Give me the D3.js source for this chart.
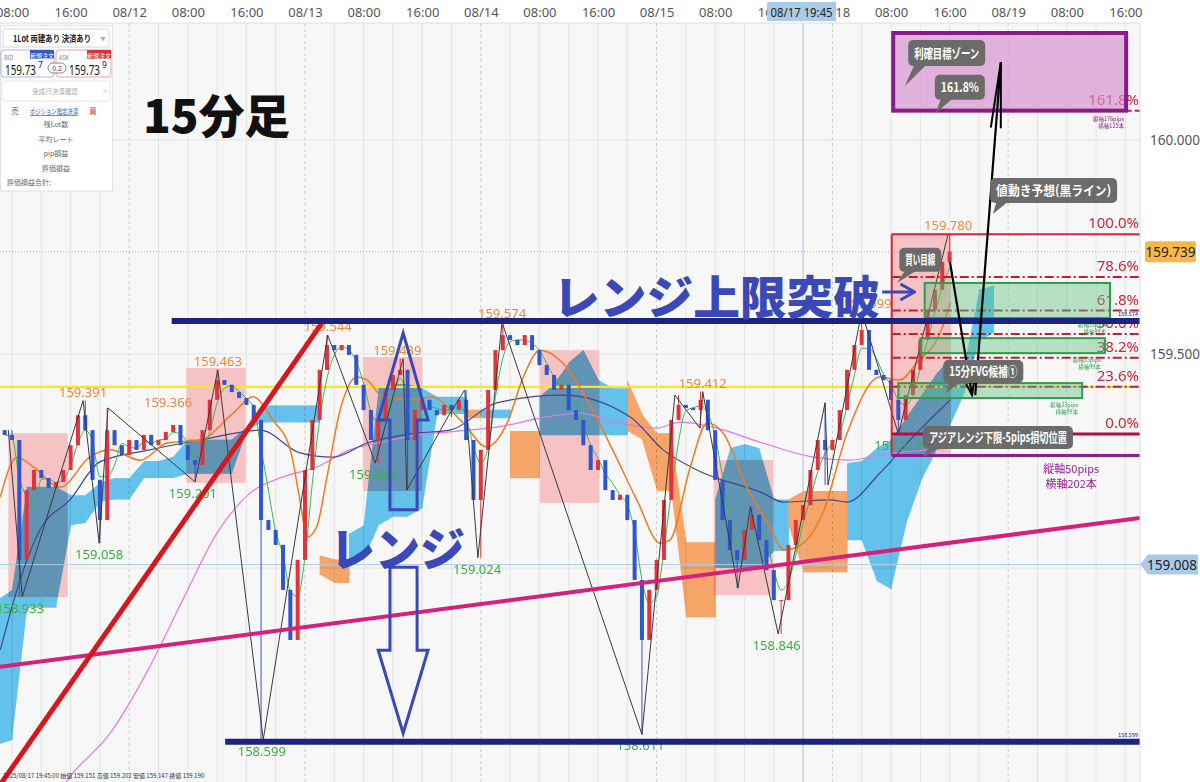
<!DOCTYPE html>
<html><head><meta charset="utf-8">
<script src="https://d3js.org/d3.v7.min.js"></script>
<style>
html,body{margin:0;padding:0;background:#fff;}
svg{display:block;font-family:"Noto Sans CJK JP","Noto Sans",sans-serif;}
</style></head><body>
<svg id="c" width="1200" height="782"></svg>
<script>
// ---------------- DATA ----------------
const timeTickLabels = ["08:00","16:00","08/12","08:00","16:00","08/13","08:00","16:00","08/14","08:00","16:00","08/15","08:00","16:00","08/18","08:00","16:00","08/19","08:00","16:00"];
const priceTicks = [159.5, 160.0];
const gridPrices = [159.0, 159.5, 160.0];
const dayBoundaries = [16, 40, 64, 88, 112, 136];

// hourly candles, first candle at hour index -1 (08/11 07:00)
const closeStart = -1;
const firstOpen = 159.322;
const closes = [
159.311,159.299,159.019,159.182,159.229,159.210,159.187,159.201,159.229,159.287,
159.357,159.322,159.206,159.112,159.322,159.287,159.264,159.299,159.276,159.311,
159.287,159.299,159.318,159.334,159.287,159.252,159.241,159.322,159.393,159.439,
159.428,159.411,159.397,159.381,159.346,159.112,159.089,159.054,158.949,158.832,
159.019,159.229,159.346,159.463,159.521,159.509,159.521,159.498,159.428,159.369,
159.299,159.346,159.416,159.451,159.463,159.299,159.369,159.393,159.369,159.357,
159.381,159.369,159.393,159.299,159.159,159.276,159.416,159.509,159.544,159.533,
159.521,159.544,159.509,159.474,159.451,159.416,159.428,159.369,159.346,159.287,
159.229,159.252,159.182,159.159,159.171,159.112,158.972,158.832,158.949,159.019,
159.159,159.346,159.381,159.374,159.369,159.393,159.322,159.206,159.112,159.042,
159.019,159.089,159.124,159.065,158.995,158.925,158.925,159.054,159.112,159.147,
159.229,159.299,159.276,159.299,159.369,159.463,159.521,159.556,159.463,159.451,
159.439,159.393,159.346,159.404,159.463,159.533,159.603,159.650,159.715,159.739];

// zigzag swing points (hour index, price)
const swingT = [-0.5,1.4,9.7,11.9,13.1,25,28.1,34.3,43.1,49.6,53.4,53.9,59.5,61.8,63.6,66.9,86,90.5,93.9,94.3,99.1,100.8,104.6,111,111.4,116,121,127.8];
const swingP = [159.322,158.933,159.391,159.058,159.374,159.201,159.463,158.599,159.544,159.245,159.489,159.182,159.353,159.416,159.024,159.574,158.611,159.404,159.327,159.412,158.953,159.143,158.846,159.386,159.194,159.599,159.313,159.780];

// labelled highs / lows
const highLabelT = [9.7,21.3,28.1,43.1,52.6,66.9,94.3,116.8,127.8];
const highLabelP = [159.391,159.366,159.463,159.544,159.489,159.574,159.412,159.599,159.780];
const lowLabelT = [1.1,11.9,24.7,34.1,49.3,63.5,85.8,104.4,121];
const lowLabelP = [158.933,159.058,159.201,158.599,159.245,159.024,158.611,158.846,159.313];

// Tokyo session boxes
const sessionStart = [-0.5,23.8,47.9,72.1,95.8,120.1];
const sessionHigh = [159.315,159.467,159.493,159.509,159.252,159.783];
const sessionLow  = [158.932,159.199,159.180,159.152,158.937,159.259];

// Ichimoku cloud, every 2 hours from hour -2
const kumoStart = -2;
const kumoA = [158.925,158.949,159.19,159.19,159.19,159.17,159.17,159.20,159.21,159.21,159.25,159.25,159.26,159.30,159.30,159.30,159.30,159.33,159.38,159.38,159.38,159.38,158.985,158.965,159.08,159.10,159.42,159.43,159.43,159.42,159.40,159.40,159.35,159.37,159.37,159.21,159.21,159.40,159.43,159.48,159.51,159.44,159.42,159.32,159.30,159.18,159.18,158.885,158.885,159.16,159.28,159.29,159.28,159.16,159.10,158.99,158.99,158.99,159.245,159.25,159.28,159.30,159.35,159.40,159.45,159.49,159.47,159.65,159.66];
const kumoB = [158.587,158.598,158.907,158.907,158.907,159.10,159.105,159.155,159.16,159.16,159.21,159.21,159.21,159.22,159.22,159.22,159.22,159.32,159.34,159.34,159.34,159.34,159.03,159.02,159.02,159.02,159.10,159.12,159.12,159.14,159.36,159.36,159.37,159.35,159.35,159.32,159.32,159.31,159.31,159.31,159.31,159.31,159.31,159.44,159.36,159.315,159.315,159.06,159.06,159.00,159.00,159.00,159.00,159.04,159.16,159.18,159.18,159.18,159.065,159.065,158.97,158.95,159.10,159.20,159.27,159.33,159.41,159.53,159.55];

// moving averages
const orangeT = [-1.6,0.7,2.9,6.6,10.6,13.4,17.5,21.2,25.7,30.2,32.9,35.6,38.0,39.3,40.3,41.6,43.0,44.8,47.1,48.5,50.6,55.3,57.1,61.6,64.8,67.6,69.8,72.1,75.2,78.5,82.0,85.3,88.5,89.8,92.6,94.9,97.1,100.3,103.5,105.3,107.2,110.7,114.0,118.5,121.2,123.5,126.7,128.1];
const orangeV = [159.166,159.259,159.236,159.189,159.259,159.276,159.252,159.292,159.299,159.362,159.400,159.346,159.276,159.159,159.072,159.096,159.213,159.369,159.446,159.439,159.400,159.393,159.400,159.339,159.283,159.339,159.446,159.509,159.479,159.393,159.276,159.159,159.058,159.065,159.236,159.339,159.315,159.189,159.096,159.042,159.049,159.129,159.315,159.446,159.439,159.479,159.549,159.619];
const navyT = [-1.6,1.1,3.8,7.9,12.0,18.8,25.7,33.9,39.3,43.8,48.5,55.3,59.8,66.2,75.2,84.4,88.9,93.5,102.5,105.3,111.7,114.0,118.5,122.6,128.1];
const navyV = [158.808,158.972,159.089,159.159,159.248,159.276,159.299,159.322,159.269,159.259,159.292,159.315,159.322,159.386,159.404,159.353,159.276,159.229,159.175,159.154,159.159,159.154,159.222,159.299,159.393];
const pinkT = [6.6,7.9,13.4,18.8,23.3,28.0,32.5,37.0,41.6,46.1,50.6,55.3,59.8,66.2,73.0,77.5,82.6,88.1,91.2,95.7,102.5,109.4,114.4,118.5,128.1];
const pinkV = [158.481,158.512,158.614,158.769,158.925,159.082,159.175,159.213,159.236,159.276,159.294,159.311,159.318,159.329,159.353,159.362,159.339,159.327,159.341,159.329,159.292,159.259,159.252,159.264,159.280];

// drawn analysis objects
const rangeTop = 159.577, rangeTopFrom = 21.8;
const rangeBottom = 158.594, rangeBottomFrom = 29.1;
const redTrendT = [-1.64, 42.3], redTrendP = [158.493, 159.572];
const magentaT = [-1.64, 154], magentaP = [158.769, 159.117];
const yellowLevel = 159.423;
const fib0 = 159.313, fib100 = 159.780, fibFrom = 120.1;
const fibRatios = [0, 0.236, 0.382, 0.5, 0.618, 0.786, 1, 1.618];
const stopLevel = 159.263;
const targetT = [120.3, 152.1], targetTop = 160.25;
const fvgT0 = [124.6, 124.0, 121.0], fvgT1 = [149.9, 149.2, 146.1];
const fvgHi = [159.666, 159.537, 159.432], fvgLo = [159.584, 159.502, 159.397];
const predT1 = [128.05, 131.06], predP1 = [159.715, 159.404];
const predT2 = [131.5, 135.0], predP2 = [159.404, 160.182];
const crossT = 108, crossP = 159.008;
const lastPrice = 159.739;

// ---------------- SETUP ----------------
const W = 1200, H = 782, PR = 1140, PT = 23, PB = 782;
const svg = d3.select("#c");
const x = d3.scaleLinear().domain([0, 152]).range([12, 12 + 152 * 7.325]);
const y = d3.scaleLinear().domain([159, 160]).range([568, 140]);
const fmt3 = d3.format(".3f");

svg.append("rect").attr("width", W).attr("height", H).attr("fill", "#fff");
svg.append("rect").attr("x", 0).attr("y", PT).attr("width", PR).attr("height", PB - PT).attr("fill", "#f7f7f7");
const defs = svg.append("defs");
defs.append("clipPath").attr("id", "plot").append("rect").attr("x", 0).attr("y", PT).attr("width", PR).attr("height", PB - PT);
defs.append("marker").attr("id", "arrSmall").attr("viewBox", "-14 -6 16 12").attr("refX", 0).attr("refY", 0)
  .attr("markerWidth", 16).attr("markerHeight", 12).attr("markerUnits", "userSpaceOnUse").attr("orient", "auto")
  .append("path").attr("d", "M-12,-4L0,0L-12,4").attr("fill", "none").attr("stroke", "#000").attr("stroke-width", 2);
defs.append("marker").attr("id", "arrLong").attr("viewBox", "-70 -8 72 16").attr("refX", 0).attr("refY", 0)
  .attr("markerWidth", 72).attr("markerHeight", 16).attr("markerUnits", "userSpaceOnUse").attr("orient", "auto")
  .append("path").attr("d", "M-66,-5L0,0L-66,5").attr("fill", "none").attr("stroke", "#000").attr("stroke-width", 2);
defs.append("marker").attr("id", "arrBlue").attr("viewBox", "-18 -10 20 20").attr("refX", 0).attr("refY", 0)
  .attr("markerWidth", 20).attr("markerHeight", 20).attr("markerUnits", "userSpaceOnUse").attr("orient", "auto")
  .append("path").attr("d", "M-14,-8L0,0L-14,8").attr("fill", "none").attr("stroke", "#3a48b8").attr("stroke-width", 3);

const g = svg.append("g").attr("clip-path", "url(#plot)");

// grid
g.selectAll(".vg").data(d3.range(-4, 160, 4).filter(t => !dayBoundaries.includes(t))).join("line")
  .attr("x1", d => x(d)).attr("x2", d => x(d)).attr("y1", PT).attr("y2", PB)
  .attr("stroke", "#e3e3e3").attr("stroke-width", 1);
g.selectAll(".dg").data(dayBoundaries).join("line")
  .attr("x1", d => x(d)).attr("x2", d => x(d)).attr("y1", PT).attr("y2", PB)
  .attr("stroke", "#b9d9a8").attr("stroke-dasharray", "3,3");
g.selectAll(".hg").data(gridPrices).join("line")
  .attr("x1", 0).attr("x2", PR).attr("y1", d => y(d)).attr("y2", d => y(d))
  .attr("stroke", "#e3e3e3");
svg.append("line").attr("x1", 0).attr("x2", PR).attr("y1", PT).attr("y2", PT).attr("stroke", "#dedede");
svg.append("line").attr("x1", PR).attr("x2", PR).attr("y1", PT).attr("y2", PB).attr("stroke", "#dedede");

// session boxes
g.selectAll(".sess").data(sessionStart).join("rect")
  .attr("x", d => x(d)).attr("width", d => x(d + 8.1) - x(d))
  .attr("y", (d, i) => y(sessionHigh[i])).attr("height", (d, i) => y(sessionLow[i]) - y(sessionHigh[i]))
  .attr("fill", "#f6c2c3");

// cloud
const kg = g.append("g").style("mix-blend-mode", "multiply");
const kumoT = kumoA.map((d, i) => kumoStart + 2 * i);
for (let i = 0; i < kumoA.length - 1; i++) {
  const bull = kumoA[i] >= kumoB[i];
  const bullN = kumoA[i + 1] >= kumoB[i + 1];
  const hi0 = Math.max(kumoA[i], kumoB[i]), lo0 = Math.min(kumoA[i], kumoB[i]);
  let hi1 = hi0, lo1 = lo0;
  if (bull === bullN) { hi1 = Math.max(kumoA[i + 1], kumoB[i + 1]); lo1 = Math.min(kumoA[i + 1], kumoB[i + 1]); }
  const x0 = x(kumoT[i]), x1 = x(kumoT[i + 1]) + 0.5;
  kg.append("path").attr("d", `M${x0},${y(hi0)}L${x1},${y(hi1)}L${x1},${y(lo1)}L${x0},${y(lo0)}Z`)
    .attr("fill", bull ? "#63c1ec" : "#f7a468");
}

// levels
g.append("line").attr("x1", 0).attr("x2", PR).attr("y1", y(yellowLevel)).attr("y2", y(yellowLevel))
  .attr("stroke", "#ffe619").attr("stroke-width", 2.2);
g.append("line").attr("x1", 0).attr("x2", PR).attr("y1", y(lastPrice)).attr("y2", y(lastPrice))
  .attr("stroke", "#f2a63c").attr("stroke-dasharray", "1,2").attr("stroke-width", 1);
g.append("line").attr("x1", x(crossT)).attr("x2", x(crossT)).attr("y1", PT).attr("y2", PB).attr("stroke", "#afcbe2");
g.append("line").attr("x1", 0).attr("x2", PR).attr("y1", y(crossP)).attr("y2", y(crossP)).attr("stroke", "#afcbe2");

// moving averages
const lineTV = d3.line().x(d => x(d[0])).y(d => y(d[1])).curve(d3.curveMonotoneX);
g.append("path").attr("d", lineTV(pinkT.map((t, i) => [t, pinkV[i]]))).attr("fill", "none").attr("stroke", "#e078e6").attr("stroke-width", 1.2);
g.append("path").attr("d", lineTV(navyT.map((t, i) => [t, navyV[i]]))).attr("fill", "none").attr("stroke", "#3d4a8c").attr("stroke-width", 1.2);
g.append("path").attr("d", lineTV(orangeT.map((t, i) => [t, orangeV[i]]))).attr("fill", "none").attr("stroke", "#f07b1e").attr("stroke-width", 1.5);
const greenMA = closes.map((c, i) => [closeStart + i, d3.mean(closes.slice(Math.max(0, i - 2), i + 1))]);
g.append("path").attr("d", lineTV(greenMA)).attr("fill", "none").attr("stroke", "#3cb54a").attr("stroke-width", 1);

// candles
const candles = closes.map((c, i) => {
  const t = closeStart + i;
  const o = i > 0 ? closes[i - 1] : firstOpen;
  let hi = Math.max(o, c), lo = Math.min(o, c);
  swingT.forEach((st, j) => { if (Math.round(st) === t) { hi = Math.max(hi, swingP[j]); lo = Math.min(lo, swingP[j]); } });
  return { t, o, c, hi, lo };
});
const cg = g.append("g");
cg.selectAll("line").data(candles).join("line")
  .attr("x1", d => x(d.t)).attr("x2", d => x(d.t)).attr("y1", d => y(d.hi)).attr("y2", d => y(d.lo))
  .attr("stroke", d => d.c >= d.o ? "#e2323c" : "#2f55cf").attr("stroke-width", 1);
cg.selectAll("rect").data(candles).join("rect")
  .attr("x", d => x(d.t) - 2).attr("width", 4)
  .attr("y", d => y(Math.max(d.o, d.c))).attr("height", d => Math.max(1, Math.abs(y(d.o) - y(d.c))))
  .attr("fill", d => d.c >= d.o ? "#e2323c" : "#2f55cf");

// zigzag
g.append("path").attr("d", d3.line().x(d => x(d[0])).y(d => y(d[1]))(swingT.map((t, i) => [t, swingP[i]])))
  .attr("fill", "none").attr("stroke", "#3a3a3a").attr("stroke-width", 1);

// swing labels
g.selectAll(".hl").data(highLabelT).join("text")
  .attr("x", d => x(d)).attr("y", (d, i) => y(highLabelP[i]) - 4).attr("text-anchor", "middle")
  .attr("font-size", 13).attr("font-family", "Noto Sans, sans-serif").attr("fill", "#e8893c")
  .text((d, i) => fmt3(highLabelP[i]));
g.selectAll(".ll").data(lowLabelT).join("text")
  .attr("x", d => x(d)).attr("y", (d, i) => y(lowLabelP[i]) + 16).attr("text-anchor", "middle")
  .attr("font-size", 13).attr("font-family", "Noto Sans, sans-serif").attr("fill", "#3bb03a")
  .text((d, i) => fmt3(lowLabelP[i]));

// ---- analysis objects ----
const fibLevel = r => fib0 + r * (fib100 - fib0);
g.append("line").attr("x1", x(fibFrom)).attr("x2", PR).attr("y1", y(fibLevel(1.618))).attr("y2", y(fibLevel(1.618)))
  .attr("stroke", "#c8243a").attr("stroke-width", 2).attr("stroke-dasharray", "6,3");
g.selectAll(".fl").data(fibRatios).join("text")
  .attr("x", PR - 1).attr("y", d => y(fibLevel(d)) - 6).attr("text-anchor", "end")
  .attr("font-size", 15).attr("font-family", "Noto Sans, sans-serif").attr("fill", "#c8283c")
  .text(d => d3.format(".1%")(d));
g.append("rect").attr("x", x(targetT[0])).attr("width", x(targetT[1]) - x(targetT[0]))
  .attr("y", y(targetTop)).attr("height", y(fibLevel(1.618)) - y(targetTop))
  .attr("fill", "#d28ccc").attr("fill-opacity", 0.65).attr("stroke", "#8a1a88").attr("stroke-width", 4);

// fib lines
fibRatios.filter(r => r > 0 && r < 1).forEach(r => {
  g.append("line").attr("x1", x(fibFrom)).attr("x2", PR).attr("y1", y(fibLevel(r))).attr("y2", y(fibLevel(r)))
    .attr("stroke", "#c0202e").attr("stroke-width", 2).attr("stroke-dasharray", "9,3,2,3");
});
g.append("line").attr("x1", x(fibFrom)).attr("x2", PR).attr("y1", y(fib100)).attr("y2", y(fib100)).attr("stroke", "#d4283a").attr("stroke-width", 2);
g.append("line").attr("x1", x(fibFrom)).attr("x2", x(fibFrom)).attr("y1", y(fib100)).attr("y2", y(stopLevel)).attr("stroke", "#d4283a").attr("stroke-width", 2);
g.append("line").attr("x1", x(fibFrom)).attr("x2", PR).attr("y1", y(fib0)).attr("y2", y(fib0)).attr("stroke", "#b0103c").attr("stroke-width", 3);
g.append("line").attr("x1", x(fibFrom)).attr("x2", PR).attr("y1", y(stopLevel)).attr("y2", y(stopLevel)).attr("stroke", "#8e1c90").attr("stroke-width", 3);

// FVG boxes
g.selectAll(".fvg").data(fvgT0).join("rect")
  .attr("x", d => x(d)).attr("width", (d, i) => x(fvgT1[i]) - x(d))
  .attr("y", (d, i) => y(fvgHi[i])).attr("height", (d, i) => y(fvgLo[i]) - y(fvgHi[i]))
  .attr("fill", "#5cc07c").attr("fill-opacity", 0.42).attr("stroke", "#2e9c4c").attr("stroke-width", 2);
const tinyG = [["縦軸33pips","横軸99本"],["縦軸33pips","横軸99本"],["縦軸33pips","横軸99本"]];
fvgT1.forEach((t, i) => {
  const tx = x(t) - 4, ty = y(fvgLo[i]) + 9;
  g.append("text").attr("x", tx).attr("y", ty).attr("text-anchor", "end").attr("font-size", 5.5).attr("fill", "#2e9c4c").text(tinyG[i][0]);
  g.append("text").attr("x", tx).attr("y", ty + 7).attr("text-anchor", "end").attr("font-size", 5.5).attr("fill", "#2e9c4c").text(tinyG[i][1]);
});
g.append("text").attr("x", PR - 16).attr("y", y(fibLevel(1.618)) + 10).attr("text-anchor", "end").attr("font-size", 5.5).attr("fill", "#8a1a88").text("縦軸176pips");
g.append("text").attr("x", PR - 16).attr("y", y(fibLevel(1.618)) + 17).attr("text-anchor", "end").attr("font-size", 5.5).attr("fill", "#8a1a88").text("横軸125本");
g.append("text").attr("x", x(144.6)).attr("y", y(stopLevel) + 18).attr("text-anchor", "middle").attr("font-size", 11).attr("fill", "#9a1c9c").text("縦軸50pips");
g.append("text").attr("x", x(144.6)).attr("y", y(stopLevel) + 33).attr("text-anchor", "middle").attr("font-size", 11).attr("fill", "#9a1c9c").text("横軸202本");

// trend lines
g.append("line").attr("x1", x(magentaT[0])).attr("y1", y(magentaP[0])).attr("x2", x(magentaT[1])).attr("y2", y(magentaP[1]))
  .attr("stroke", "#d6207c").attr("stroke-width", 4);
g.append("line").attr("x1", x(redTrendT[0])).attr("y1", y(redTrendP[0])).attr("x2", x(redTrendT[1])).attr("y2", y(redTrendP[1]))
  .attr("stroke", "#d8161c").attr("stroke-width", 5);
g.append("line").attr("x1", x(rangeTopFrom)).attr("x2", PR).attr("y1", y(rangeTop)).attr("y2", y(rangeTop))
  .attr("stroke", "#1b2480").attr("stroke-width", 6);
g.append("line").attr("x1", x(rangeBottomFrom)).attr("x2", PR).attr("y1", y(rangeBottom)).attr("y2", y(rangeBottom))
  .attr("stroke", "#1b2480").attr("stroke-width", 6);
g.append("text").attr("x", PR - 2).attr("y", y(rangeTop) - 5).attr("text-anchor", "end").attr("font-size", 5.5).attr("fill", "#1b2480").text(fmt3(159.574));
g.append("text").attr("x", PR - 2).attr("y", y(rangeBottom) - 5).attr("text-anchor", "end").attr("font-size", 5.5).attr("fill", "#1b2480").text(fmt3(158.599));

// prediction lines
g.append("line").attr("x1", x(predT1[0])).attr("y1", y(predP1[0])).attr("x2", x(predT1[1])).attr("y2", y(predP1[1]))
  .attr("stroke", "#000").attr("stroke-width", 2.2).attr("marker-end", "url(#arrSmall)");
g.append("line").attr("x1", x(predT2[0])).attr("y1", y(predP2[0])).attr("x2", x(predT2[1])).attr("y2", y(predP2[1]))
  .attr("stroke", "#000").attr("stroke-width", 2.2).attr("marker-end", "url(#arrLong)");

// callouts
function callout(txt, t, p, w, h, tailT, tailP) {
  const cx = x(t), cy = y(p), bx = cx - w / 2, by = cy - h / 2;
  const cgp = svg.append("g");
  cgp.append("path").attr("d", `M${bx + 7},${by + h - 3}L${x(tailT)},${y(tailP)}L${bx + 20},${by + h - 3}Z`).attr("fill", "#6b6b6b");
  cgp.append("rect").attr("x", bx).attr("y", by).attr("width", w).attr("height", h).attr("rx", 5).attr("fill", "#6b6b6b");
  cgp.append("text").attr("x", bx + 6).attr("y", cy + 4.5).attr("font-size", 13).attr("font-weight", "bold").attr("fill", "#fff")
    .attr("textLength", w - 12).attr("lengthAdjust", "spacingAndGlyphs").text(txt);
}
callout("利確目標ゾーン", 127.6, 160.203, 77, 26, 121.9, 160.126);
callout("161.8%", 129.4, 160.123, 50, 25, 126.1, 160.063);
callout("値動き予想(黒ライン)", 142.2, 159.882, 127, 25, 133.9, 159.827);
callout("買い目線", 124.0, 159.720, 42, 24, 120.8, 159.666);
callout("15分FVG候補①", 132.6, 159.459, 80, 23, 127.5, 159.409);
callout("アジアレンジ下限-5pips損切位置", 134.6, 159.305, 150, 23, 124.2, 159.257);

// big blue annotations
const blue = "#3a48b8";
svg.append("text").attr("x", x(73.86)).attr("y", y(159.593)).attr("font-size", 46).attr("font-weight", 900).attr("fill", blue)
  .attr("textLength", 327).attr("lengthAdjust", "spacingAndGlyphs").text("レンジ上限突破");
svg.append("line").attr("x1", x(118.8)).attr("x2", x(123.2)).attr("y1", y(159.645)).attr("y2", y(159.645))
  .attr("stroke", blue).attr("stroke-width", 3).attr("marker-end", "url(#arrBlue)");
svg.append("text").attr("x", x(43.4)).attr("y", y(159.005)).attr("font-size", 46).attr("font-weight", 900).attr("fill", blue)
  .attr("textLength", 135).attr("lengthAdjust", "spacingAndGlyphs").text("レンジ");
const upArrow = [[53.4,159.549],[56.8,159.346],[55.3,159.346],[55.3,159.136],[51.6,159.136],[51.6,159.346],[50.0,159.346]];
const downArrow = [[51.6,159.002],[55.3,159.002],[55.3,158.808],[56.8,158.808],[53.4,158.614],[50.0,158.808],[51.6,158.808]];
[upArrow, downArrow].forEach(pts => {
  svg.append("path").attr("d", d3.line().x(d => x(d[0])).y(d => y(d[1]))(pts) + "Z")
    .attr("fill", "none").attr("stroke", blue).attr("stroke-width", 3).attr("stroke-linejoin", "miter");
});

// title
svg.append("text").attr("x", 143).attr("y", 133).attr("font-size", 46).attr("font-weight", 900).attr("fill", "#111")
  .attr("textLength", 147).attr("lengthAdjust", "spacingAndGlyphs").text("15分足");

// ---- axes ----
const axTop = svg.append("g").attr("transform", "translate(0,17)")
  .call(d3.axisTop(x).tickValues(d3.range(0, 153, 8)).tickSize(0).tickPadding(0).tickFormat((d, i) => timeTickLabels[i]));
axTop.select(".domain").remove();
axTop.selectAll("text").attr("font-size", 13).attr("fill", "#555").attr("font-family", "Noto Sans, sans-serif");
const axR = svg.append("g").attr("transform", `translate(${PR},0)`)
  .call(d3.axisRight(y).tickValues(priceTicks).tickSize(0).tickPadding(10).tickFormat(fmt3));
axR.select(".domain").remove();
axR.selectAll("text").attr("font-size", 13.5).attr("fill", "#555").attr("font-family", "Noto Sans, sans-serif");

// price tags
svg.append("rect").attr("x", 1145).attr("y", y(lastPrice) - 10.5).attr("width", 51).attr("height", 21).attr("rx", 2).attr("fill", "#f8b749");
svg.append("text").attr("x", 1170.5).attr("y", y(lastPrice) + 5).attr("text-anchor", "middle").attr("font-size", 13.5)
  .attr("font-family", "Noto Sans, sans-serif").attr("fill", "#222").text(fmt3(lastPrice));
const cy0 = y(crossP);
svg.append("path").attr("d", `M${PR},${cy0}L${PR + 8},${cy0 - 10}L1198,${cy0 - 10}L1198,${cy0 + 10}L${PR + 8},${cy0 + 10}Z`).attr("fill", "#a9cbe7");
svg.append("text").attr("x", 1172).attr("y", cy0 + 5).attr("text-anchor", "middle").attr("font-size", 13.5)
  .attr("font-family", "Noto Sans, sans-serif").attr("fill", "#222").text(fmt3(crossP));
svg.append("rect").attr("x", x(crossT) - 36).attr("y", 2).attr("width", 69).attr("height", 19).attr("fill", "#a9cbe7");
svg.append("text").attr("x", x(crossT) - 1.5).attr("y", 17).attr("text-anchor", "middle").attr("font-size", 13)
  .attr("font-family", "Noto Sans, sans-serif").attr("fill", "#222").attr("textLength", 62).attr("lengthAdjust", "spacingAndGlyphs").text("08/17 19:45");

// status line
svg.append("text").attr("x", 3).attr("y", 778).attr("font-size", 6).attr("fill", "#333")
  .text("2025/08/17 19:45:00 始値 159.151 高値 159.202 安値 159.147 終値 159.190");

// ---- order panel ----
const pn = svg.append("g").attr("font-family", "Noto Sans CJK JP, sans-serif");
pn.append("rect").attr("x", 0.5).attr("y", 26).attr("width", 112).attr("height", 165).attr("fill", "#fff").attr("stroke", "#e2e2e2");
pn.append("rect").attr("x", 3).attr("y", 29).attr("width", 106).attr("height", 18).attr("rx", 2).attr("fill", "#fff").attr("stroke", "#d6d6d6");
pn.append("text").attr("x", 13).attr("y", 42).attr("font-size", 9.5).attr("font-weight", "bold").attr("fill", "#222")
  .attr("textLength", 78).attr("lengthAdjust", "spacingAndGlyphs").text("1Lot 両建あり 決済あり");
pn.append("text").attr("x", 103).attr("y", 41).attr("text-anchor", "middle").attr("font-size", 5.5).attr("fill", "#aaa").text("▼");
pn.append("rect").attr("x", 1).attr("y", 50).attr("width", 53).attr("height", 27).attr("rx", 3).attr("fill", "#fff").attr("stroke", "#a8b8dc");
pn.append("rect").attr("x", 56).attr("y", 50).attr("width", 55).attr("height", 27).attr("rx", 3).attr("fill", "#fff").attr("stroke", "#e3a4a8");
pn.append("rect").attr("x", 30).attr("y", 50).attr("width", 24).attr("height", 9).attr("fill", "#3556c4");
pn.append("rect").attr("x", 87).attr("y", 50).attr("width", 24).attr("height", 9).attr("fill", "#d3343c");
pn.append("text").attr("x", 42).attr("y", 57.5).attr("text-anchor", "middle").attr("font-size", 6).attr("fill", "#fff").text("新規注文");
pn.append("text").attr("x", 99).attr("y", 57.5).attr("text-anchor", "middle").attr("font-size", 6).attr("fill", "#fff").text("新規注文");
pn.append("text").attr("x", 4).attr("y", 60).attr("font-size", 5.5).attr("fill", "#888").text("BID");
pn.append("text").attr("x", 59).attr("y", 60).attr("font-size", 5.5).attr("fill", "#888").text("ASK");
pn.append("text").attr("x", 5).attr("y", 75).attr("font-size", 14).attr("fill", "#222").attr("font-family", "Noto Sans, sans-serif")
  .attr("textLength", 31).attr("lengthAdjust", "spacingAndGlyphs").text("159.73");
pn.append("text").attr("x", 38).attr("y", 68).attr("font-size", 8.5).attr("fill", "#222").attr("font-family", "Noto Sans, sans-serif").text("7");
pn.append("text").attr("x", 69).attr("y", 75).attr("font-size", 14).attr("fill", "#222").attr("font-family", "Noto Sans, sans-serif")
  .attr("textLength", 31).attr("lengthAdjust", "spacingAndGlyphs").text("159.73");
pn.append("text").attr("x", 102).attr("y", 68).attr("font-size", 8.5).attr("fill", "#222").attr("font-family", "Noto Sans, sans-serif").text("9");
pn.append("rect").attr("x", 48).attr("y", 63).attr("width", 18).attr("height", 10).attr("rx", 5).attr("fill", "#fff").attr("stroke", "#888");
pn.append("text").attr("x", 57).attr("y", 71).attr("text-anchor", "middle").attr("font-size", 7).attr("fill", "#444").text("0.2");
pn.append("rect").attr("x", 2).attr("y", 81).attr("width", 108).attr("height", 20).attr("rx", 2).attr("fill", "#fff").attr("stroke", "#e6e6e6");
pn.append("text").attr("x", 55).attr("y", 94).attr("text-anchor", "middle").attr("font-size", 6.5).attr("fill", "#aaa").text("全成行決済確認");
pn.append("text").attr("x", 105).attr("y", 94).attr("text-anchor", "middle").attr("font-size", 8).attr("fill", "#bbb").text(">");
pn.append("text").attr("x", 15).attr("y", 114).attr("text-anchor", "middle").attr("font-size", 7.5).attr("fill", "#3556c4").text("売");
pn.append("text").attr("x", 30).attr("y", 114).attr("font-size", 7).attr("fill", "#3556c4").attr("text-decoration", "underline")
  .attr("textLength", 48).attr("lengthAdjust", "spacingAndGlyphs").text("ポジション指定決済");
pn.append("text").attr("x", 93).attr("y", 114).attr("text-anchor", "middle").attr("font-size", 7.5).attr("fill", "#d3343c").text("買");
["残Lot数", "平均レート", "pip損益", "評価損益"].forEach((s, i) => {
  pn.append("text").attr("x", 56).attr("y", 127 + i * 14.5).attr("text-anchor", "middle").attr("font-size", 7).attr("fill", "#666").text(s);
});
pn.append("text").attr("x", 7).attr("y", 185).attr("font-size", 7).attr("fill", "#666").text("評価損益合計:");
</script>
</body></html>
